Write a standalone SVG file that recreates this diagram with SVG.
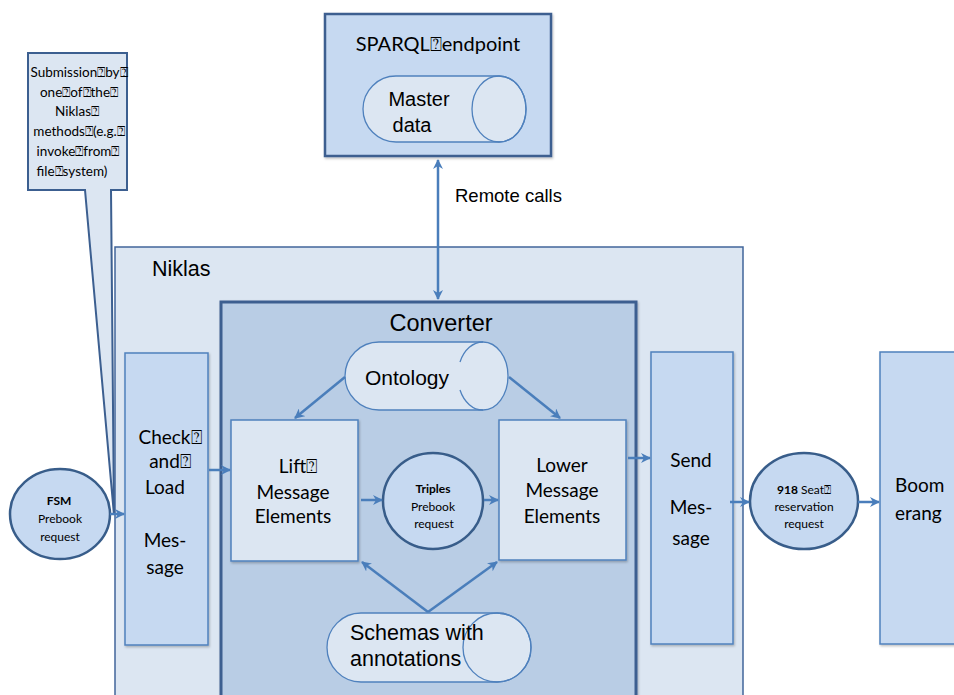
<svg xmlns="http://www.w3.org/2000/svg" width="954" height="695" viewBox="0 0 954 695">
<defs>
<marker id="ah" viewBox="0 0 10 10" refX="9" refY="5" markerWidth="4" markerHeight="4" orient="auto-start-reverse" markerUnits="strokeWidth">
<path d="M0,0 L10,5 L0,10 L3,5 Z" fill="#4a7ebb"/>
</marker>
<filter id="sh" x="-10%" y="-10%" width="120%" height="120%">
<feDropShadow dx="1" dy="1.5" stdDeviation="1.2" flood-color="#000" flood-opacity="0.25"/>
</filter>
</defs>
<style>
.cont{fill:#dce6f2;stroke:#41659a;stroke-width:1.5}
.conv{fill:#b9cde5;stroke:#3c5f90;stroke-width:3}
.blue{fill:#c6d9f1;stroke:#4f81bd;stroke-width:1.5}
.light{fill:#dce6f2;stroke:#4f81bd;stroke-width:1.5}
.circ{fill:#c6d9f1;stroke:#385d8a;stroke-width:2.5}
.pill{fill:#dce6f2;stroke:#4f81bd;stroke-width:1.3}
.cap{fill:none;stroke:#4f81bd;stroke-width:1.3}
.arr{fill:none;stroke:#4a7ebb;stroke-width:2.5;marker-end:url(#ah)}
.ar{font-family:"Liberation Sans",Arial,sans-serif;fill:#000}
.ca{font-family:Lato,"Open Sans",sans-serif;fill:#000}
.b{font-weight:bold}
</style>

<g id="niklas">
<rect class="cont" x="115" y="247" width="628" height="460"/>
<text class="ar" x="152" y="276" font-size="21.5">Niklas</text>
</g>

<g id="sparql">
<rect x="325" y="14" width="226" height="142" fill="#c6d9f1" stroke="#3c5f90" stroke-width="2.5" filter="url(#sh)"/>
<text class="ca" x="438" y="51" font-size="20" text-anchor="middle">SPARQL⍰endpoint</text>
</g>

<g id="master-data">
<path class="pill" d="M396,76 H499 A27,33 0 0 1 499,142 H396 A33,33 0 0 1 396,76 Z"/>
<ellipse class="cap" cx="499" cy="109" rx="27" ry="33"/>
<text class="ar" x="419" y="106" font-size="20" text-anchor="middle">Master</text>
<text class="ar" x="412" y="132" font-size="20" text-anchor="middle">data</text>
</g>

<g id="converter">
<rect class="conv" x="221" y="302" width="415" height="405" filter="url(#sh)"/>
<text class="ar" x="441" y="331" font-size="23.5" text-anchor="middle">Converter</text>
</g>

<g id="ontology">
<path class="pill" d="M379,342 H483 A25,34 0 0 1 483,410 H379 A34,34 0 0 1 379,342 Z"/>
<path class="cap" d="M483,342 A25,34 0 0 0 460,362 M460,390 A25,34 0 0 0 483,410"/>
<text class="ar" x="407" y="385" font-size="21" text-anchor="middle">Ontology</text>
</g>

<g id="lift">
<rect class="light" x="231" y="420" width="127" height="141" filter="url(#sh)"/>
<text class="ca" font-size="19" text-anchor="middle"><tspan x="298" y="473">Lift⍰</tspan><tspan x="293" y="499">Message</tspan><tspan x="293" y="523">Elements</tspan></text>
</g>

<g id="lower">
<rect class="light" x="499" y="420" width="127" height="140" filter="url(#sh)"/>
<text class="ca" font-size="19" text-anchor="middle"><tspan x="562" y="472">Lower</tspan><tspan x="562" y="497">Message</tspan><tspan x="562" y="523">Elements</tspan></text>
</g>

<g id="triples">
<ellipse class="circ" cx="433" cy="501" rx="50" ry="48"/>
<text class="ca" font-size="12" text-anchor="middle"><tspan x="433" y="493" class="b">Triples</tspan><tspan x="433" y="511">Prebook</tspan><tspan x="434" y="528">request</tspan></text>
</g>

<g id="schemas">
<path class="pill" d="M361,613 H497 A34,34.5 0 0 1 497,682 H361 A34,34.5 0 0 1 361,613 Z"/>
<ellipse class="cap" cx="497" cy="647.5" rx="34" ry="34.5"/>
<text class="ar" font-size="21.5"><tspan x="350" y="640">Schemas with</tspan><tspan x="350" y="666">annotations</tspan></text>
</g>

<g id="check-load">
<rect class="blue" x="125" y="353" width="83" height="292" filter="url(#sh)"/>
<text class="ca" font-size="19" text-anchor="middle"><tspan x="170" y="444">Check⍰</tspan><tspan x="170" y="468">and⍰</tspan><tspan x="165" y="494">Load</tspan><tspan x="165" y="547">Mes-</tspan><tspan x="165" y="574">sage</tspan></text>
</g>

<g id="send">
<rect class="blue" x="651" y="352" width="82" height="292" filter="url(#sh)"/>
<text class="ca" font-size="19" text-anchor="middle"><tspan x="691" y="467">Send</tspan><tspan x="691" y="514">Mes-</tspan><tspan x="691" y="545">sage</tspan></text>
</g>

<g id="boomerang">
<rect class="blue" x="880" y="352" width="90" height="292" filter="url(#sh)"/>
<text class="ca" font-size="19"><tspan x="895" y="492">Boom</tspan><tspan x="895" y="520">erang</tspan></text>
</g>

<g id="fsm">
<ellipse class="circ" cx="60" cy="514" rx="50" ry="45"/>
<text class="ca" font-size="12" text-anchor="middle"><tspan x="59" y="505" class="b">FSM</tspan><tspan x="60" y="523">Prebook</tspan><tspan x="60" y="541">request</tspan></text>
</g>

<g id="seat918">
<ellipse class="circ" cx="804" cy="501" rx="54" ry="48"/>
<text class="ca" font-size="12" text-anchor="middle"><tspan x="804" y="494"><tspan class="b">918</tspan> Seat⍰</tspan><tspan x="804" y="511">reservation</tspan><tspan x="804" y="528">request</tspan></text>
</g>

<g id="callout">
<path d="M28,53 H127 V190 H111 L114,515 L85,190 H28 Z" fill="#dce6f2" stroke="#3c5f90" stroke-width="2" stroke-linejoin="miter"/>
<text class="ca" font-size="13.5" text-anchor="middle"><tspan x="79" y="77">Submission⍰by⍰</tspan><tspan x="79" y="97">one⍰of⍰the⍰</tspan><tspan x="77" y="116">Niklas⍰</tspan><tspan x="79" y="136">methods⍰(e.g.⍰</tspan><tspan x="78" y="156">invoke⍰from⍰</tspan><tspan x="72" y="176">file⍰system)</tspan></text>
</g>

<g id="connectors">
<line class="arr" x1="438" y1="160" x2="438" y2="299" style="marker-start:url(#ah)"/>
<text class="ar" x="455" y="202" font-size="18.5">Remote calls</text>
<line class="arr" x1="345" y1="377" x2="295" y2="418"/>
<line class="arr" x1="509" y1="377" x2="560" y2="418"/>
<line class="arr" x1="361" y1="500" x2="382" y2="500"/>
<line class="arr" x1="484" y1="500" x2="498" y2="500"/>
<line class="arr" x1="428" y1="612" x2="362" y2="562"/>
<line class="arr" x1="428" y1="612" x2="497" y2="562"/>
<line class="arr" x1="209" y1="470" x2="230" y2="470"/>
<line class="arr" x1="110" y1="514" x2="124" y2="514"/>
<line class="arr" x1="628" y1="458" x2="650" y2="458"/>
<line class="arr" x1="730" y1="502" x2="749" y2="502"/>
<line class="arr" x1="858" y1="502" x2="879" y2="502"/>
</g>
</svg>
